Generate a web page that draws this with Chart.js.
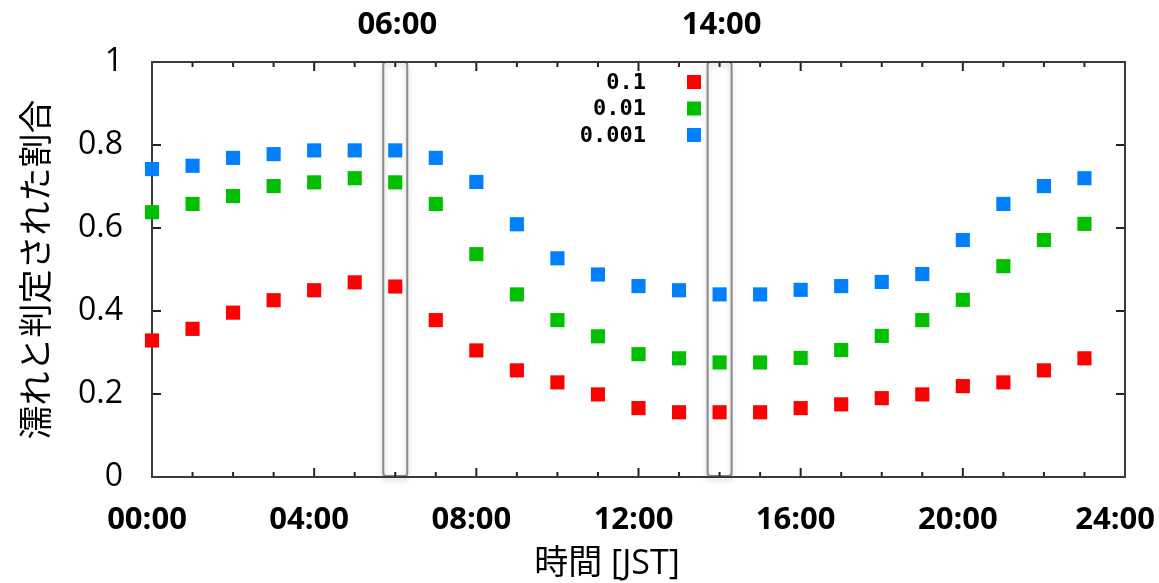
<!DOCTYPE html>
<html>
<head>
<meta charset="utf-8">
<script src="https://cdn.jsdelivr.net/npm/chart.js@4"></script>
<style>
html,body{margin:0;padding:0;background:#fff;}
#c{display:block;}
</style>
</head>
<body>
<canvas id="c" width="1159" height="583"></canvas>
<script>
// ---- data ----
const hours = [0,1,2,3,4,5,6,7,8,9,10,11,12,13,14,15,16,17,18,19,20,21,22,23];
const seriesLabels = ['0.1', '0.01', '0.001'];
const red   = [0.329,0.357,0.396,0.426,0.450,0.469,0.459,0.378,0.305,0.257,0.228,0.199,0.166,0.156,0.156,0.156,0.166,0.175,0.190,0.199,0.219,0.228,0.257,0.286];
const green = [0.638,0.658,0.677,0.701,0.710,0.720,0.710,0.658,0.537,0.440,0.378,0.339,0.296,0.286,0.276,0.276,0.287,0.306,0.340,0.378,0.427,0.508,0.571,0.610];
const blue  = [0.742,0.750,0.769,0.778,0.787,0.787,0.787,0.769,0.711,0.609,0.527,0.488,0.460,0.450,0.440,0.440,0.451,0.460,0.470,0.489,0.571,0.658,0.701,0.720];
const xTickValues = [0, 4, 8, 12, 16, 20, 24];
const xTickLabels = ['00:00', '04:00', '08:00', '12:00', '16:00', '20:00', '24:00'];
const highlightHours = [6, 14];
const highlightLabels = ['06:00', '14:00'];
const xTitle = '時間 [JST]';
const yTitle = '濡れと判定された割合';

const colors = ['#ff0000', '#00c000', '#0080ff'];
const values = [red, green, blue];

const datasets = values.map((vals, i) => ({
  label: seriesLabels[i],
  data: hours.map((h, k) => ({x: h, y: vals[k]})),
  pointStyle: 'rect',
  pointRadius: 10,
  pointHoverRadius: 10,
  pointBorderWidth: 0,
  backgroundColor: colors[i],
  borderColor: colors[i],
  showLine: false,
  clip: false
}));

const decor = {
  id: 'decor',
  beforeDatasetsDraw(chart) {
    const ctx = chart.ctx;
    const a = chart.chartArea;
    const xs = chart.scales.x, ys = chart.scales.y;
    ctx.save();
    // highlight boxes
    highlightHours.forEach(h => {
      const cx = xs.getPixelForValue(h);
      const x0 = cx - 12, w = 24;
      ctx.save();
      ctx.shadowColor = 'rgba(0,0,0,0.22)';
      ctx.shadowBlur = 5;
      ctx.shadowOffsetY = 3;
      ctx.strokeStyle = '#8a8a8a';
      ctx.lineWidth = 2;
      ctx.beginPath();
      ctx.roundRect(x0, a.top, w, a.bottom - a.top - 1, 3);
      ctx.stroke();
      ctx.restore();
    });
    // ticks
    ctx.strokeStyle = '#222';
    ctx.lineWidth = 2;
    ctx.beginPath();
    for (let h = 1; h < 24; h++) {
      const x = xs.getPixelForValue(h);
      const len = (h % 4 === 0) ? 9 : 5;
      ctx.moveTo(x, a.bottom); ctx.lineTo(x, a.bottom - len);
      ctx.moveTo(x, a.top); ctx.lineTo(x, a.top + len);
    }
    for (let v = 0.2; v < 0.99; v += 0.2) {
      const y = ys.getPixelForValue(v);
      ctx.moveTo(a.left, y); ctx.lineTo(a.left + 9, y);
      ctx.moveTo(a.right, y); ctx.lineTo(a.right - 9, y);
    }
    ctx.stroke();
    // frame
    ctx.strokeStyle = '#3a3a3a';
    ctx.lineWidth = 2;
    ctx.strokeRect(a.left, a.top, a.right - a.left, a.bottom - a.top);
    ctx.restore();
  },
  afterDraw(chart) {
    const ctx = chart.ctx;
    const xs = chart.scales.x;
    const W = chart.width;
    ctx.save();
    ctx.fillStyle = '#000';
    ctx.font = 'bold 31px "Open Sans"';
    ctx.textAlign = 'center';
    ctx.textBaseline = 'middle';
    // x tick labels (kept inside the canvas at the right edge)
    xTickValues.forEach((v, i) => {
      const t = xTickLabels[i];
      const w = ctx.measureText(t).width;
      let cx = xs.getPixelForValue(v) - 5;
      if (cx + w / 2 > W - 4) cx = W - 4 - w / 2;
      ctx.fillText(t, cx, 520);
    });
    // top highlight labels
    highlightHours.forEach((h, i) => {
      ctx.fillText(highlightLabels[i], xs.getPixelForValue(h) + 2, 25);
    });
    // x title
    ctx.font = '34px "Open Sans", "Noto Sans CJK JP"';
    ctx.fillText(xTitle, 607, 564);
    // legend
    ctx.font = 'bold 22px "DejaVu Sans Mono"';
    ctx.textAlign = 'right';
    chart.data.datasets.forEach((ds, i) => {
      const y = 82 + 26.5 * i;
      ctx.fillStyle = '#000';
      ctx.fillText(ds.label, 646, y + 1);
      ctx.fillStyle = ds.backgroundColor;
      ctx.fillRect(694 - 7, y - 7, 14, 14);
    });
    ctx.restore();
  }
};

new Chart(document.getElementById('c'), {
  type: 'scatter',
  data: { datasets },
  options: {
    responsive: false,
    devicePixelRatio: 1,
    animation: false,
    layout: { padding: { left: 0, top: 62, right: 34, bottom: 0 } },
    plugins: { legend: { display: false }, tooltip: { enabled: false } },
    scales: {
      x: {
        type: 'linear', min: 0, max: 24,
        grid: { display: false, drawTicks: false },
        border: { display: false },
        ticks: { display: false, stepSize: 4 },
        afterFit(s) { s.height = 106; s.paddingLeft = 0; s.paddingRight = 0; }
      },
      y: {
        min: 0, max: 1,
        grid: { display: false, drawTicks: false },
        border: { display: false },
        ticks: {
          stepSize: 0.2,
          callback: v => String(Math.round(v * 10) / 10),
          color: '#000',
          font: { family: 'Open Sans', size: 32 },
          padding: 29
        },
        title: {
          display: true,
          text: yTitle,
          color: '#000',
          font: { family: 'Noto Sans CJK JP', size: 34 },
          padding: { top: 15, bottom: 0 }
        },
        afterFit(s) { s.width = 152; }
      }
    }
  },
  plugins: [decor]
});
</script>
</body>
</html>
